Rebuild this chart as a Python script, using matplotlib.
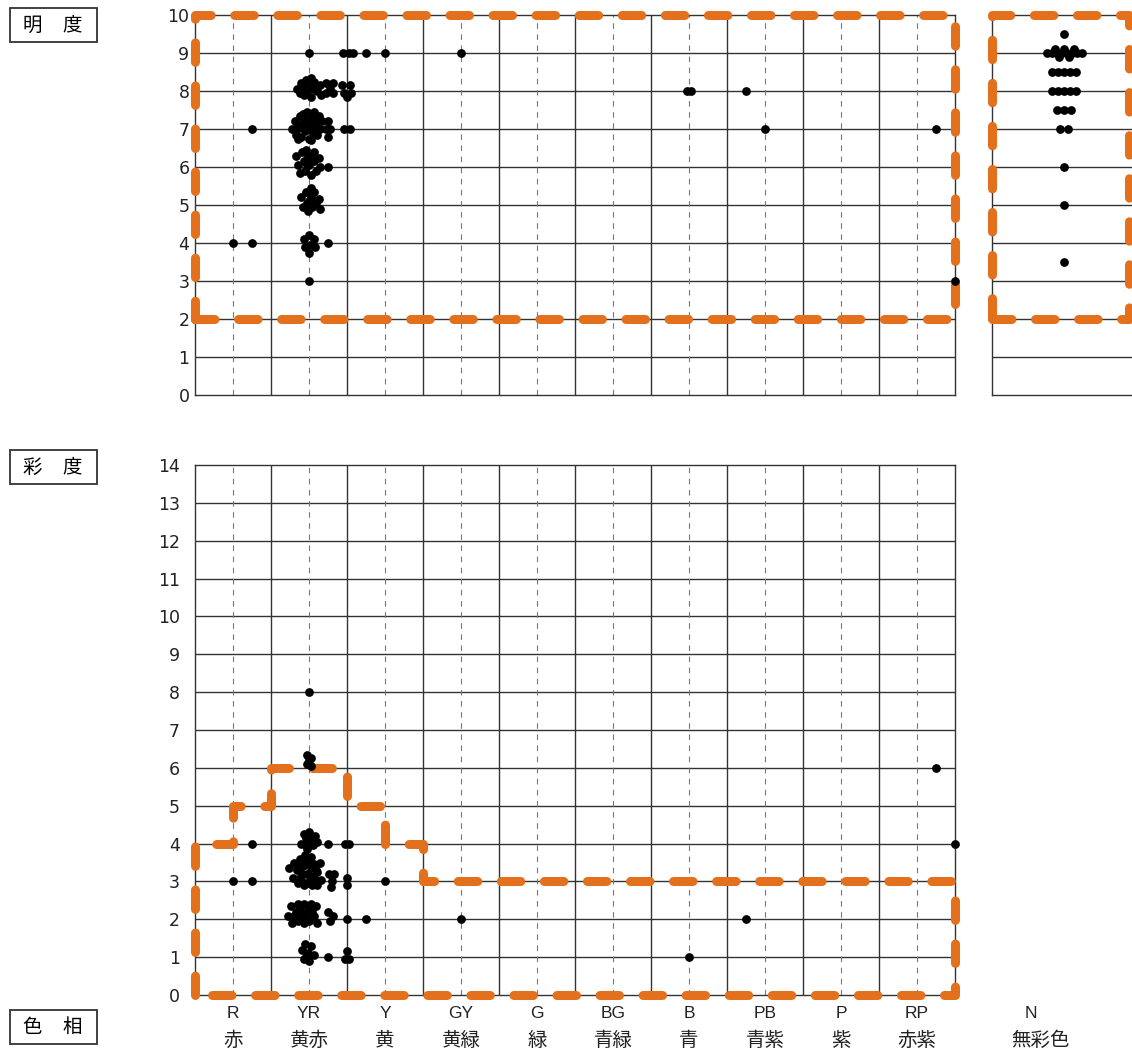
import matplotlib
matplotlib.use('Agg')
import matplotlib.pyplot as plt
from matplotlib.patches import Rectangle

plt.rcParams['lines.scale_dashes'] = False

# hue families (Munsell hue 0-100, family centre = 5, 15, ...)
hue_codes = ['R', 'YR', 'Y', 'GY', 'G', 'BG', 'B', 'PB', 'P', 'RP']
hue_names = ['赤', '黄赤', '黄', '黄緑', '緑', '青緑', '青', '青紫', '紫', '赤紫']

# value (明度) samples: (hue, value)
light_pts = [
    # 9
    (15, 9), (19.5, 9), (20.2, 9), (20.8, 9), (22.5, 9), (25, 9), (35, 9),
    # 8
    (13.4, 8.05), (13.9, 8.2), (14.3, 7.9), (14.6, 8.3), (15.0, 8.1), (15.3, 7.85),
    (15.6, 8.25), (16.0, 8.0), (16.4, 8.15), (16.6, 7.9), (14.2, 8.1), (15.2, 8.35),
    (14.7, 8.0), (15.6, 8.05), (13.8, 7.95),
    (17.2, 8.2), (18.1, 8.2), (17.3, 7.95), (18.1, 7.95), (17.7, 8.05),
    (19.4, 8.15), (20.4, 8.15), (19.6, 7.95), (20.5, 7.95), (20.0, 7.85),
    (64.7, 8), (65.3, 8), (72.5, 8),
    # 7
    (7.5, 7),
    (12.7, 7.0), (13.2, 7.2), (13.3, 6.85), (13.8, 7.35), (13.9, 7.05), (14.0, 6.8),
    (14.4, 7.2), (14.5, 6.95), (14.8, 7.45), (15.0, 7.1), (15.0, 6.75), (15.4, 7.3),
    (15.5, 6.9), (15.9, 7.15), (16.0, 6.85), (16.3, 7.35), (16.5, 7.0), (16.7, 7.2),
    (14.2, 7.4), (15.6, 7.45), (13.6, 6.75), (15.2, 6.7),
    (13.6, 7.1), (14.3, 7.05), (15.1, 7.0), (15.8, 7.05), (14.7, 7.25), (13.4, 7.0),
    (17.5, 7.2), (17.5, 7.0), (17.5, 6.8), (17.2, 7.0), (17.8, 7.0),
    (19.6, 7), (20.4, 7), (75, 7), (97.5, 7),
    # 6
    (13.3, 6.3), (13.6, 6.05), (13.8, 5.85), (14.1, 6.4), (14.3, 6.15), (14.5, 5.9),
    (14.9, 6.3), (15.0, 6.05), (15.2, 5.8), (15.6, 6.4), (15.7, 6.15), (15.9, 5.9),
    (16.3, 6.25), (16.5, 6.0), (14.6, 6.45), (14.6, 6.1), (15.4, 6.2), (17.5, 6),
    # 5
    (14.0, 5.2), (14.2, 4.95), (14.6, 5.35), (14.7, 5.05), (14.9, 4.85), (15.3, 5.2),
    (15.4, 4.95), (15.7, 5.35), (15.9, 5.05), (16.3, 5.15), (16.4, 4.9), (15.2, 5.45),
    (15.0, 5.1),
    # 4
    (5, 4), (7.5, 4),
    (14.3, 4.1), (14.5, 3.9), (15.0, 4.2), (15.1, 3.95), (15.6, 4.1), (15.8, 3.9),
    (15.0, 3.75), (17.5, 4),
    # 3
    (15, 3), (100, 3),
]

# neutral (N) samples: (offset from column centre, value)
neutral_pts = [
    (0, 9.5),
    (-2.2, 9), (-1.6, 9), (-0.9, 9), (-0.3, 9), (0.4, 9), (1.1, 9), (1.7, 9), (2.4, 9),
    (-1.2, 9.1), (0.0, 9.1), (1.3, 9.1), (-0.6, 8.9), (0.7, 8.9),
    (-1.6, 8.5), (-0.8, 8.5), (0, 8.5), (0.8, 8.5), (1.6, 8.5),
    (-1.6, 8), (-0.8, 8), (0, 8), (0.8, 8), (1.6, 8),
    (-0.9, 7.5), (0, 7.5), (0.9, 7.5),
    (-0.5, 7), (0.5, 7),
    (0, 6), (0, 5), (0, 3.5),
]

# chroma (彩度) samples: (hue, chroma)
chroma_pts = [
    (15, 8),
    (14.8, 6.35), (15.3, 6.25), (14.7, 6.1), (15.2, 6.05), (15.0, 6.2), (97.5, 6),
    (7.5, 4),
    (14.0, 4.0), (14.3, 4.25), (14.6, 3.95), (15.0, 4.3), (15.1, 4.1), (15.5, 3.95),
    (15.8, 4.2), (16.0, 4.05), (14.8, 3.85), (14.6, 4.15),
    (17.5, 4), (19.7, 4), (20.3, 4), (100, 4),
    (5, 3), (7.5, 3),
    (12.4, 3.35), (12.9, 3.1), (13.0, 3.5), (13.4, 3.3), (13.5, 2.95), (13.8, 3.6),
    (13.9, 3.15), (14.2, 3.4), (14.3, 2.9), (14.5, 3.7), (14.7, 3.2), (14.8, 3.5),
    (15.0, 2.95), (15.2, 3.35), (15.3, 3.65), (15.6, 3.1), (15.7, 3.45), (16.0, 2.9),
    (16.1, 3.25), (16.4, 3.5), (16.6, 3.05), (14.0, 3.0), (14.6, 2.95), (15.4, 2.9),
    (13.6, 3.45), (14.4, 3.55), (15.1, 3.15), (15.9, 3.3), (14.1, 3.2),
    (17.6, 3.2), (18.3, 3.2), (18.0, 3.0), (17.9, 2.85),
    (20, 3.1), (20, 2.9), (25, 3),
    (12.3, 2.1), (12.6, 2.35), (12.8, 1.9), (13.3, 2.2), (13.5, 2.4), (13.6, 1.95),
    (14.1, 2.1), (14.3, 2.4), (14.4, 1.9), (14.9, 2.25), (15.0, 1.95), (15.2, 2.4),
    (15.6, 2.1), (15.9, 2.35), (16.0, 1.9), (13.0, 2.1), (13.8, 2.25), (14.6, 2.15),
    (15.4, 2.2),
    (17.5, 2.2), (18.2, 2.1), (17.7, 1.95),
    (20, 2), (22.5, 2), (35, 2), (72.5, 2),
    (14.1, 1.2), (14.5, 1.35), (14.3, 0.95), (14.9, 1.1), (15.2, 1.3), (15.0, 0.9),
    (15.6, 1.05), (14.6, 1.0),
    (17.5, 1), (19.7, 0.95), (20.3, 0.95), (20.0, 1.15), (65, 1),
]

# orange outlines
light_zone = [(0, 2), (100, 2), (100, 10), (0, 10), (0, 2)]
neutral_zone = [(-9.45, 2), (8.6, 2), (8.6, 10), (-9.45, 10), (-9.45, 2)]
chroma_zone = [(0, 0), (0, 4), (5, 4), (5, 5), (10, 5), (10, 6), (20, 6), (20, 5),
               (25, 5), (25, 4), (30, 4), (30, 3), (100, 3), (100, 0), (0, 0)]

ORANGE = '#E2701C'
GRID = '#333333'
W, H = 1132, 1054
fig = plt.figure(figsize=(W / 100, H / 100), dpi=100)


def fx(px):
    return px / W


def fy(py):
    return 1 - py / H


def style_axes(ax, ymax, ylab_pad):
    for s in ax.spines.values():
        s.set_color(GRID)
        s.set_linewidth(1.0)
    ax.set_ylim(0, ymax)
    ax.set_yticks(range(0, ymax + 1))
    ax.tick_params(axis='y', length=0, pad=ylab_pad, labelsize=12.5, colors='#222222')
    for y in range(1, ymax):
        ax.axhline(y, color=GRID, lw=1.0, zorder=1)


def orange(ax, pts):
    xs = [p[0] for p in pts]
    ys = [p[1] for p in pts]
    ln, = ax.plot(xs, ys, color=ORANGE, lw=6.5, solid_capstyle='round',
                  dash_capstyle='round', clip_on=False, zorder=3)
    ln.set_dashes((14, 17))


def hue_grid(ax):
    ax.set_xlim(0, 100)
    ax.set_xticks([])
    for x in range(10, 100, 10):
        ax.axvline(x, color=GRID, lw=1.0, zorder=1)
    for x in range(5, 100, 10):
        ax.axvline(x, color='#777777', lw=0.8, ls=(0, (4, 4)), zorder=1)


def dots(ax, pts):
    ax.plot([p[0] for p in pts], [p[1] for p in pts], 'o', color='black',
            ms=6.3, mec='none', clip_on=False, zorder=4)


# top: value
ax1 = fig.add_axes([fx(195), fy(395), fx(955) - fx(195), fy(15) - fy(395)])
style_axes(ax1, 10, 4)
hue_grid(ax1)
orange(ax1, light_zone)
dots(ax1, light_pts)

# top right: neutral column
axn = fig.add_axes([fx(992), fy(395), 1 - fx(992), fy(15) - fy(395)])
style_axes(axn, 10, 4)
axn.set_xlim(-9.47, 8.95)
axn.set_xticks([])
axn.set_yticklabels([])
axn.spines['right'].set_visible(False)
orange(axn, neutral_zone)
dots(axn, neutral_pts)

# bottom: chroma
ax2 = fig.add_axes([fx(195), fy(995), fx(955) - fx(195), fy(465) - fy(995)])
style_axes(ax2, 14, 11)
hue_grid(ax2)
orange(ax2, chroma_zone)
dots(ax2, chroma_pts)

latin = 'Liberation Sans'
cjk = ['Noto Sans CJK JP', 'DejaVu Sans']
for i, (code, name) in enumerate(zip(hue_codes, hue_names)):
    cx = 195 + 76 * (i + 0.5)
    fig.text(fx(cx), fy(1013), code, ha='center', va='center', fontsize=12.5,
             family=latin, color='#222222')
    fig.text(fx(cx), fy(1040), name, ha='center', va='center', fontsize=14,
             family=cjk, color='#222222')
fig.text(fx(1031), fy(1013), 'N', ha='center', va='center', fontsize=12.5,
         family=latin, color='#222222')
fig.text(fx(1040), fy(1040), '無彩色', ha='center', va='center', fontsize=14,
         family=cjk, color='#222222')

# boxed axis names
for (c1, c2), (y0, y1) in [(('明', '度'), (8, 42)), (('彩', '度'), (450, 484)),
                           (('色', '相'), (1010, 1044))]:
    fig.add_artist(Rectangle((fx(10), fy(y1)), fx(97) - fx(10), fy(y0) - fy(y1),
                             transform=fig.transFigure, fill=False, ec='#333333', lw=1.3))
    ym = (y0 + y1) / 2
    fig.text(fx(32), fy(ym), c1, ha='center', va='center', fontsize=14, family=cjk)
    fig.text(fx(72), fy(ym), c2, ha='center', va='center', fontsize=14, family=cjk)

fig.savefig('out.png', dpi=100, facecolor='white')
